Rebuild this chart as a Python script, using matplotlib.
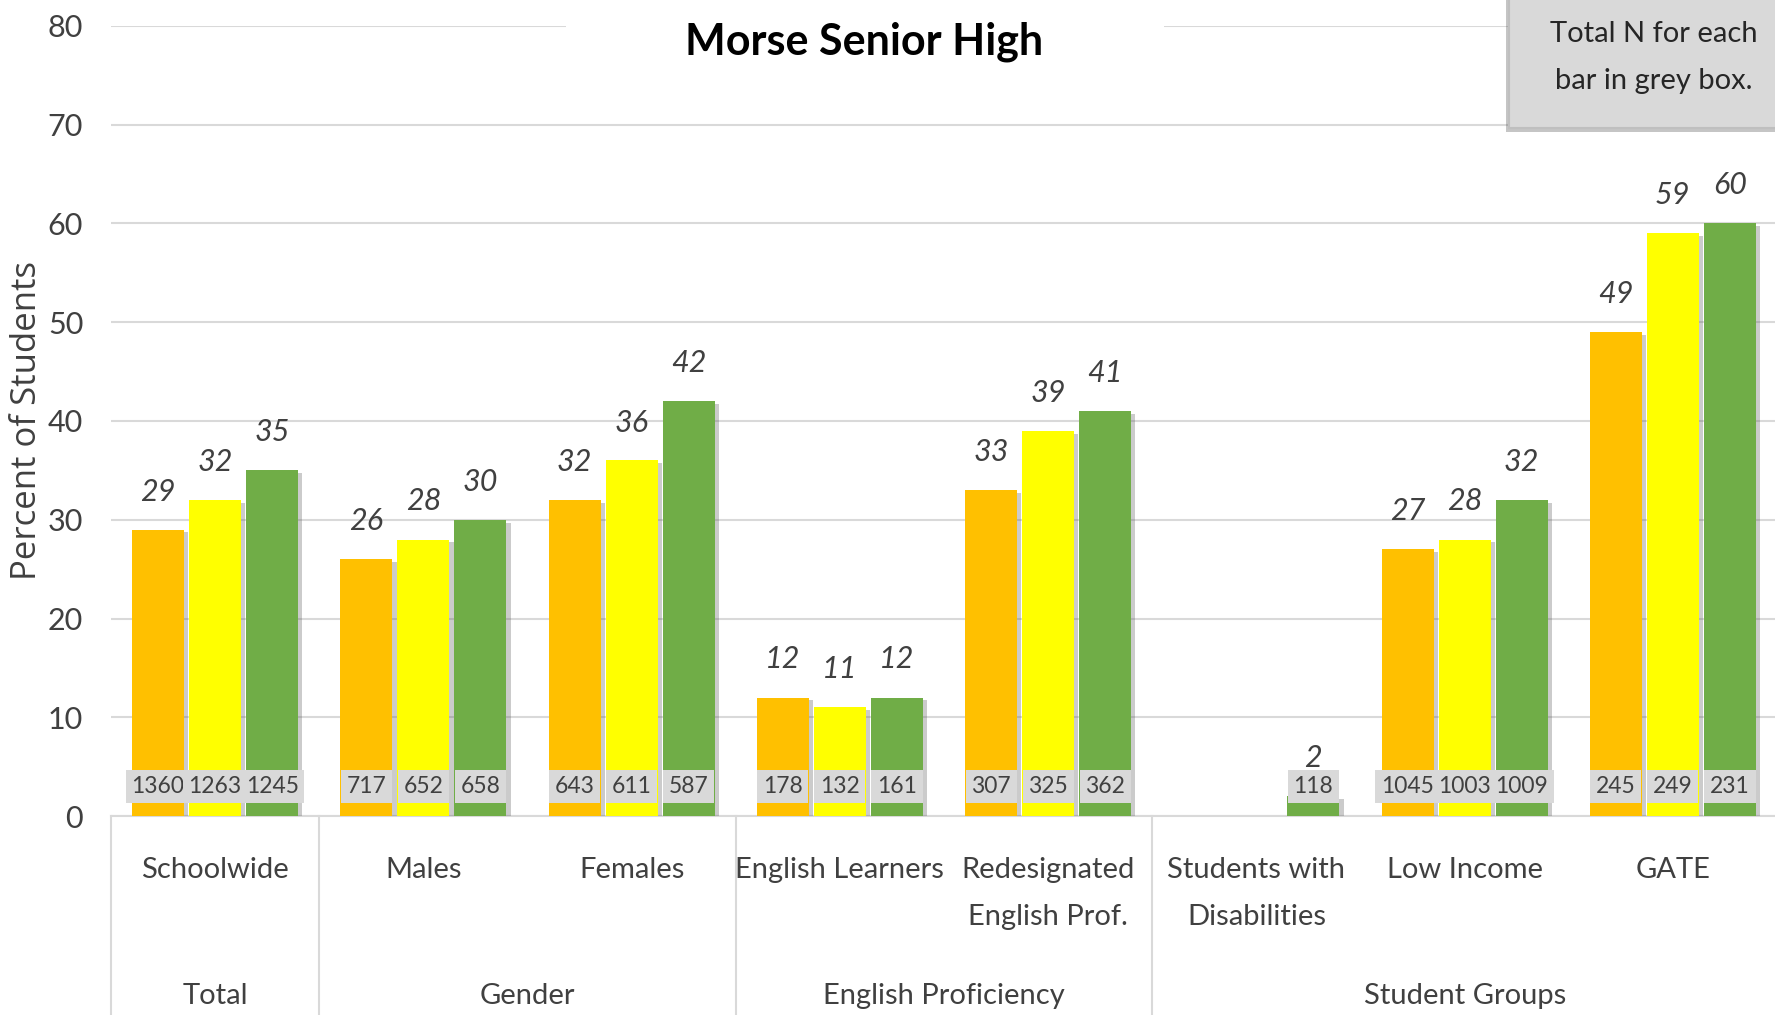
import numpy as np
import matplotlib
matplotlib.use("Agg")
import matplotlib.pyplot as plt
import matplotlib.patheffects as pe
from matplotlib.patches import Rectangle

plt.rcParams["font.family"] = ["Lato", "DejaVu Sans"]

categories = ["Schoolwide", "Males", "Females", "English Learners",
              "Redesignated\nEnglish Prof.", "Students with\nDisabilities",
              "Low Income", "GATE"]
groups = ["Total", "Gender", "English Proficiency", "Student Groups"]
group_spans = [(0, 0), (1, 2), (3, 4), (5, 7)]

orange_vals = [29, 26, 32, 12, 33, None, 27, 49]
yellow_vals = [32, 28, 36, 11, 39, None, 28, 59]
green_vals  = [35, 30, 42, 12, 41, 2, 32, 60]
orange_n = [1360, 717, 643, 178, 307, None, 1045, 245]
yellow_n = [1263, 652, 611, 132, 325, None, 1003, 249]
green_n  = [1245, 658, 587, 161, 362, 118, 1009, 231]

series = [
    (orange_vals, orange_n, "#FFC000"),
    (yellow_vals, yellow_n, "#FFFF00"),
    (green_vals,  green_n,  "#70AD47"),
]

W, H = 1775, 1015
fig = plt.figure(figsize=(W / 100, H / 100), dpi=100)
ax = fig.add_axes([111 / W, (H - 816) / H, 1666 / W, 790 / H])

text_col = "#404040"
grid_col = "#D9D9D9"
x = np.arange(len(categories))
offsets = [-0.274, 0.0, 0.274]
width = 0.25

for (vals, ns, col), off in zip(series, offsets):
    for i, (v, n) in enumerate(zip(vals, ns)):
        if v is None:
            continue
        b = ax.bar(x[i] + off, v, width, color=col, zorder=3)
        b[0].set_path_effects([pe.SimplePatchShadow(offset=(3, -2), alpha=0.3, shadow_rgbFace="#555555"),
                               pe.Normal()])
        ax.annotate(f"{v}", (x[i] + off, v), xytext=(0, 38), textcoords="offset pixels",
                    ha="center", va="center", fontsize=22, style="italic", color=text_col, zorder=5)
        ax.text(x[i] + off, 3.0, f"{n}", ha="center", va="center", fontsize=16.5, color=text_col, zorder=5,
                bbox=dict(boxstyle="square,pad=0.25", facecolor="#D9D9D9", edgecolor="none"))

ax.set_xlim(-0.5, len(categories) - 0.5)
ax.set_ylim(0, 80)
ax.set_yticks(np.arange(0, 81, 10))
ax.yaxis.grid(True, color=grid_col, linewidth=1.5, zorder=0)
ax.set_axisbelow(True)
ax.tick_params(axis="y", length=0, pad=20, labelsize=22, labelcolor=text_col)
ax.set_xticks([])
for s in ["top", "right", "left"]:
    ax.spines[s].set_visible(False)
ax.spines["bottom"].set_color(grid_col)
ax.spines["bottom"].set_linewidth(1.5)

trans = ax.get_xaxis_transform()
for i, c in enumerate(categories):
    ax.text(x[i], -0.052, c, transform=trans, ha="center", va="top", fontsize=21,
            color=text_col, linespacing=2.0, clip_on=False)
for g, (a, b) in zip(groups, group_spans):
    ax.text((a + b) / 2, -0.228, g, transform=trans, ha="center", va="center", fontsize=21,
            color=text_col, clip_on=False)
for xb in [-0.5, 0.5, 2.5, 4.5]:
    ax.plot([xb, xb], [0, -0.26], transform=trans, color=grid_col, linewidth=1.5, clip_on=False)

fig.text(27 / W, 1 - 421 / H, "Percent of Students", rotation=90, ha="center", va="center",
         fontsize=25, color=text_col, family=["Open Sans", "DejaVu Sans"])

# white band behind the title hides the top gridline
fig.add_artist(Rectangle((566 / W, 1 - 80 / H), 598 / W, 80 / H, transform=fig.transFigure,
                         facecolor="white", edgecolor="none", zorder=2))
fig.text(864 / W, 1 - 42 / H, "Morse Senior High", ha="center", va="center", fontsize=31,
         fontweight="bold", color="black", zorder=3)

note = Rectangle((1509 / W, 1 - 128 / H), 280 / W, 140 / H, transform=fig.transFigure,
                 facecolor="#D9D9D9", edgecolor="#BFBFBF", linewidth=1.5, zorder=2)
note.set_path_effects([pe.SimplePatchShadow(offset=(-2, -3), alpha=0.3), pe.Normal()])
fig.add_artist(note)
fig.text(1654 / W, 1 - 58 / H, "Total N for each\nbar in grey box.", ha="center", va="center",
         fontsize=21, color="#262626", linespacing=2.0, zorder=3)

fig.savefig("out.png", dpi=100)
